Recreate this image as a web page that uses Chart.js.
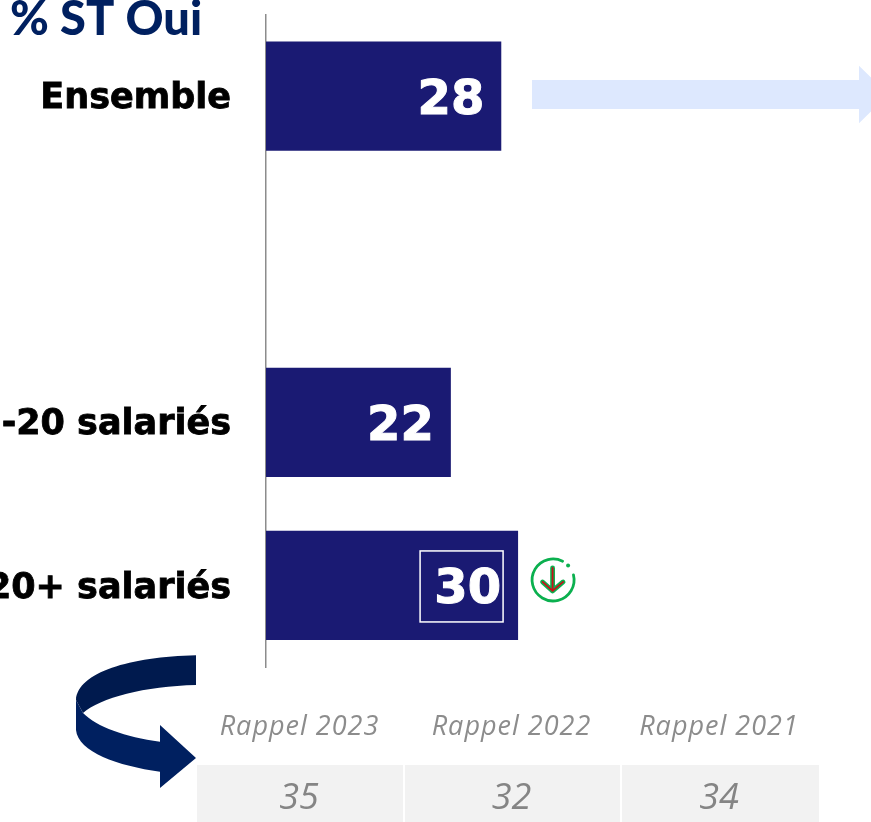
<!DOCTYPE html>
<html><head><meta charset="utf-8">
<style>html,body{margin:0;padding:0;background:#fff;overflow:hidden}canvas{display:block}</style>
<script src="https://cdn.jsdelivr.net/npm/chart.js@4"></script></head>
<body><canvas id="c" width="871" height="822"></canvas>
<script>
const categories = ['Ensemble', '', '-20 salariés', '20+ salariés'];
const values = [28, null, 22, 30];
const rappelLabels = ['Rappel 2023', 'Rappel 2022', 'Rappel 2021'];
const rappelValues = ['35', '32', '34'];
const titleText = '% ST Oui';
const highlighted = [false, false, false, true];

const overlay = {
  id: 'overlay',
  afterDatasetsDraw(chart) {
    const ctx = chart.ctx, meta = chart.getDatasetMeta(0);
    ctx.save();
    // value labels
    ctx.font = 'bold 48px "DejaVu Sans"';
    ctx.fillStyle = '#fff'; ctx.strokeStyle = '#fff'; ctx.lineWidth = 1;
    ctx.textAlign = 'right'; ctx.textBaseline = 'alphabetic';
    values.forEach((v, i) => {
      if (v == null) return;
      const el = meta.data[i];
      ctx.strokeStyle = '#fff'; ctx.lineWidth = 1;
      ctx.strokeText(String(v), el.x - 17, el.y + 18);
      ctx.fillText(String(v), el.x - 17, el.y + 18);
      if (highlighted[i]) {
        ctx.strokeStyle = '#fff'; ctx.lineWidth = 1.5;
        ctx.strokeRect(el.x - 98, el.y - 34.5, 83, 71);
        // trend icon next to the bar
        const cx = el.x + 35, cy = el.y - 5.5;
        const deg = Math.PI / 180;
        ctx.strokeStyle = '#0bb04f'; ctx.lineWidth = 2.8; ctx.lineCap = 'round'; ctx.lineJoin = 'round';
        ctx.beginPath(); ctx.arc(cx, cy, 21, -14 * deg, 297 * deg); ctx.stroke();
        ctx.fillStyle = '#0bb04f'; ctx.beginPath(); ctx.arc(cx + 15, cy - 14.5, 2, 0, 7); ctx.fill();
        const arrow = () => { ctx.beginPath(); ctx.moveTo(cx - 0.5, cy - 12); ctx.lineTo(cx - 0.5, cy + 11); ctx.moveTo(cx - 10.5, cy + 2); ctx.lineTo(cx - 0.5, cy + 11); ctx.lineTo(cx + 10, cy + 2); ctx.stroke(); };
        ctx.lineWidth = 4.8; arrow();
        ctx.strokeStyle = '#c8101a'; ctx.lineWidth = 1.8; arrow();
        ctx.fillStyle = '#fff';
      }
    });
    // light arrow
    ctx.fillStyle = '#dde8fe';
    ctx.beginPath(); ctx.moveTo(532, 80); ctx.lineTo(859, 80); ctx.lineTo(859, 65.7); ctx.lineTo(888, 94.5);
    ctx.lineTo(859, 123.3); ctx.lineTo(859, 109); ctx.lineTo(532, 109); ctx.closePath(); ctx.fill();
    // title
    ctx.fillStyle = '#002060'; ctx.textAlign = 'left';
    ctx.font = '900 47px Lato';
    ctx.fillText(titleText, 10, 35);
    // curved arrow
    ctx.fillStyle = '#002060';
    ctx.beginPath(); ctx.moveTo(76, 700); ctx.lineTo(76, 730);
    ctx.bezierCurveTo(78, 752, 118, 766, 160, 771.7);
    ctx.lineTo(160, 788); ctx.lineTo(196, 758); ctx.lineTo(160, 725); ctx.lineTo(160, 741.7);
    ctx.bezierCurveTo(125, 737, 97, 727, 83, 713); ctx.closePath(); ctx.fill();
    ctx.fillStyle = '#001a4e';
    ctx.beginPath(); ctx.moveTo(196, 655.3);
    ctx.bezierCurveTo(130, 657, 78, 672, 76, 700);
    ctx.lineTo(83, 713);
    ctx.bezierCurveTo(100, 698, 145, 686, 196, 685); ctx.closePath(); ctx.fill();
    // recall table
    const cells = [[197, 206], [405, 215], [622, 197]];
    const centres = [299.5, 511.5, 719];
    cells.forEach((c, i) => {
      ctx.fillStyle = '#f2f2f2'; ctx.fillRect(c[0], 765, c[1], 57);
      ctx.fillStyle = '#8c8c8c'; ctx.textAlign = 'center';
      ctx.font = 'italic 27px "Open Sans"';
      ctx.letterSpacing = '1px';
      ctx.fillText(rappelLabels[i], centres[i], 735);
      ctx.letterSpacing = '0px';
      ctx.font = 'italic 36px "Open Sans"';
      ctx.fillStyle = '#858585';
      ctx.fillText(rappelValues[i], i === 0 ? 299 : centres[i], 809);
    });
    ctx.restore();
  }
};

new Chart(document.getElementById('c'), {
  type: 'bar',
  data: { labels: categories, datasets: [{ data: values, backgroundColor: '#1a1a73', categoryPercentage: 1, barPercentage: 0.669 }] },
  options: {
    indexAxis: 'y', responsive: false, animation: false, devicePixelRatio: 1,
    layout: { padding: { top: 14.5, bottom: 155, left: 0, right: 0 } },
    plugins: { legend: { display: false }, tooltip: { enabled: false }, title: { display: false } },
    scales: {
      x: { display: false, min: 0, max: 72 },
      y: {
        afterFit(s) { s.width = 266; s.paddingTop = 0; s.paddingBottom = 0; },
        grid: { display: false, drawTicks: false },
        border: { display: true, color: '#8c8c8c', width: 1.5 },
        ticks: { color: '#000', padding: 35, labelOffset: 3, textStrokeColor: '#000', textStrokeWidth: 0.8, font: { family: '"DejaVu Sans"', weight: 'bold', size: 35 }, autoSkip: false }
      }
    }
  },
  plugins: [overlay]
});
</script></body></html>
